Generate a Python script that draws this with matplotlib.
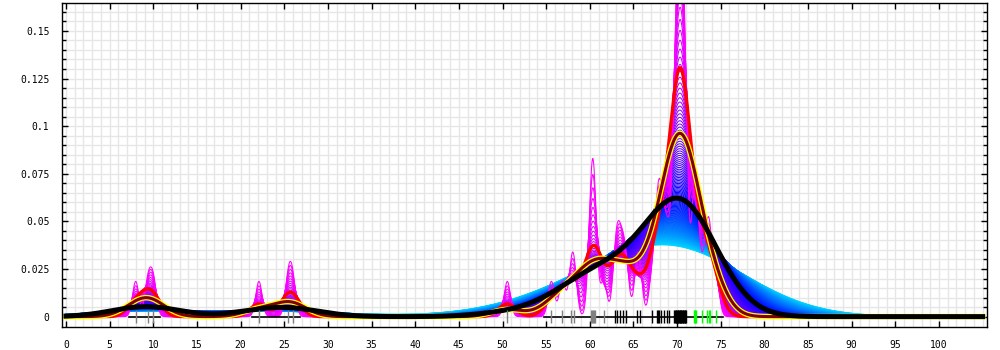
import numpy as np
import matplotlib
matplotlib.use("Agg")
import matplotlib.pyplot as plt
from matplotlib.colors import LinearSegmentedColormap

# ---- data (rug points, grouped by rug colour) ----
gray_points = [7.98, 9.4, 10.0, 22.1, 25.45, 25.95, 50.55, 55.6, 56.85, 57.9, 58.2,
               60.1, 60.22, 60.34, 60.46, 60.58, 61.6]
black_points = [62.9, 63.15, 63.46, 63.84, 64.2, 65.4, 65.7, 67.1, 67.7, 67.8, 67.95,
                68.2, 68.5, 68.8, 69.1, 69.6,
                69.75, 69.83, 69.9, 69.98, 70.05, 70.13, 70.2, 70.28, 70.35, 70.43,
                70.5, 70.58, 70.65, 70.73, 70.8, 70.88, 70.95, 71.03]
green_points = [71.9, 72.0, 72.1, 72.2, 72.8, 73.4, 73.6, 73.8, 74.5]

# bandwidth sweep of the family of density curves (magenta -> blue -> cyan)
family_bw_min = 0.36
family_bw_max = 8.0
family_count = 150
red_bw = 1.0
darkred_bw = 1.8
black_bw = 3.7

x_min, x_max = 0, 105
x_ticks = list(range(0, 105, 5))
y_ticks = [0, 0.025, 0.05, 0.075, 0.1, 0.125, 0.15]
y_tick_labels = ["0", "0.025", "0.05", "0.075", "0.1", "0.125", "0.15"]

data = np.array(gray_points + black_points + green_points)
grid = np.linspace(x_min, x_max, 2101)


def kde(h):
    z = (grid[:, None] - data[None, :]) / h
    return np.exp(-0.5 * z ** 2).sum(axis=1) / (len(data) * h * np.sqrt(2 * np.pi))


plt.rcParams['font.family'] = ['DejaVu Sans Mono']
fig = plt.figure(figsize=(10, 3.5), dpi=100)
ax = fig.add_axes([0.062, 0.0649, 0.925, 0.9257])

# colour as a function of bandwidth
stops = [(0.36, (1, 0, 1)), (1.0, (0.8, 0, 1)), (1.8, (0.45, 0, 1)),
         (3.0, (0.15, 0, 1)), (3.7, (0, 0, 1)), (5.5, (0, 0.4, 1)),
         (8.0, (0, 0.85, 1))]
lo, hi = stops[0][0], stops[-1][0]
cmap = LinearSegmentedColormap.from_list(
    "fam", [((h - lo) / (hi - lo), c) for h, c in stops])

bws = np.linspace(family_bw_min, family_bw_max, family_count)
for h in bws[::-1]:
    ax.plot(grid, kde(h), color=cmap((h - lo) / (hi - lo)), lw=0.75, zorder=2)

ax.plot(grid, kde(red_bw), color=(1, 0, 0), lw=2.4, zorder=3)
ax.plot(grid, kde(darkred_bw), color=(1, 1, 0), lw=4.0, zorder=4)
ax.plot(grid, kde(darkred_bw), color=(0.5, 0, 0), lw=2.2, zorder=4.5)
ax.plot(grid, kde(black_bw), color='black', lw=3.6, zorder=5)

# rug baseline segments over clusters
srt = np.sort(data)
clusters = []
start = srt[0]
prev = srt[0]
for v in srt[1:]:
    if v - prev > 4:
        clusters.append((start, prev))
        start = v
    prev = v
clusters.append((start, prev))
for a, b in clusters:
    if b > a:
        ax.plot([a - 0.8, b + 0.8], [0, 0], color='black', lw=1.2, zorder=6)

rug_h = 0.0033
ax.vlines(gray_points, -rug_h, rug_h, color=(0.5, 0.5, 0.5), lw=1, zorder=7)
ax.vlines(black_points, -rug_h, rug_h, color='black', lw=1, zorder=7)
ax.vlines(green_points, -rug_h, rug_h, color=(0, 1, 0), lw=1, zorder=7)

ax.set_xlim(-0.46, 105.5)
ax.set_ylim(-0.0056, 0.1645)
ax.set_xticks(x_ticks)
ax.set_xticklabels([str(t) for t in x_ticks])
ax.set_yticks(y_ticks)
ax.set_yticklabels(y_tick_labels)
ax.set_xticks(np.arange(0, 106, 1), minor=True)
ax.set_yticks(np.arange(0, 0.165, 0.005), minor=True)
ax.tick_params(axis='x', which='minor', length=0)
ax.tick_params(axis='both', which='major', direction='in', length=4.5, width=1,
               top=True, right=True, labelsize=7, pad=9)
ax.tick_params(axis='y', which='minor', direction='in', length=3, width=1, right=True)
ax.grid(True, which='both', color=(0.9, 0.9, 0.9), lw=1, zorder=0)
ax.set_axisbelow(True)
for s in ax.spines.values():
    s.set_linewidth(1)
    s.set_color('black')

fig.savefig("out.png", dpi=100)
